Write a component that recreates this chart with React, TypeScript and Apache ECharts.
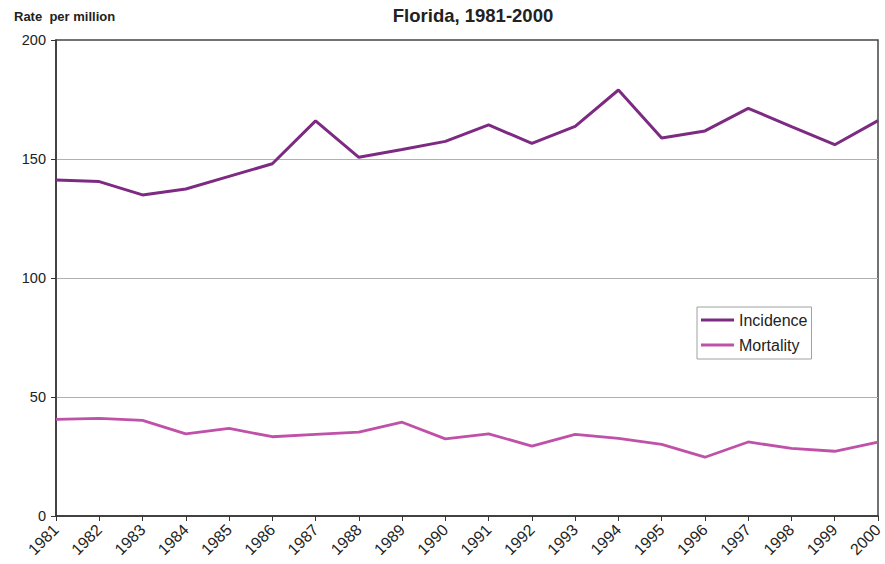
import React, { useEffect, useRef } from "react";
import * as echarts from "echarts";

const years = ["1981","1982","1983","1984","1985","1986","1987","1988","1989","1990","1991","1992","1993","1994","1995","1996","1997","1998","1999","2000"];
const incidence = [141.2, 140.5, 134.9, 137.4, 142.7, 148.0, 166.0, 150.7, 154.0, 157.4, 164.3, 156.6, 163.7, 179.0, 158.8, 161.8, 171.3, 163.6, 156.0, 166.1];
const mortality = [40.6, 41.0, 40.2, 34.5, 36.8, 33.3, 34.3, 35.2, 39.4, 32.4, 34.5, 29.4, 34.3, 32.6, 30.1, 24.7, 31.1, 28.4, 27.2, 31.0];
const yTicks = { min: 0, max: 200, interval: 50 };
const FONT = "'Liberation Sans', Arial, sans-serif";

export default function App() {
  const ref = useRef<HTMLDivElement>(null);
  useEffect(() => {
    if (!ref.current) return;
    const chart = echarts.init(ref.current, undefined, { renderer: "svg" });
    chart.setOption({
      animation: false,
      backgroundColor: "#ffffff",
      textStyle: { fontFamily: FONT },
      title: [
        {
          text: "Florida, 1981-2000",
          left: 468,
          top: 1,
          textAlign: "center",
          textStyle: { fontFamily: FONT, fontSize: 18.5, fontWeight: "bold", color: "#222" },
        },
        {
          text: "Rate  per million",
          left: 9,
          top: 5,
          textStyle: { fontFamily: FONT, fontSize: 13, fontWeight: "bold", color: "#222" },
        },
      ],
      grid: {
        left: 56,
        right: 7,
        top: 40,
        bottom: 48,
        show: true,
        borderColor: "#444",
        borderWidth: 1.5,
        outerBoundsMode: "none",
      },
      legend: {
        orient: "vertical",
        left: 697,
        top: 307,
        width: 118,
        padding: [5, 4, 6, 4],
        itemGap: 9,
        itemWidth: 33,
        itemHeight: 3,
        icon: "rect",
        borderColor: "#a0a0a0",
        borderWidth: 1,
        textStyle: { fontFamily: FONT, fontSize: 16, color: "#222" },
        data: ["Incidence", "Mortality"],
      },
      xAxis: {
        type: "category",
        data: years,
        boundaryGap: false,
        axisLine: { show: true, lineStyle: { color: "#333", width: 1.5 } },
        axisTick: { show: true, length: 5, alignWithLabel: true, lineStyle: { color: "#333" } },
        axisLabel: { rotate: 45, margin: 11, fontSize: 16, color: "#222", fontFamily: FONT, interval: 0 },
        splitLine: { show: false },
      },
      yAxis: {
        type: "value",
        min: yTicks.min,
        max: yTicks.max,
        interval: yTicks.interval,
        axisLine: { show: true, lineStyle: { color: "#333", width: 1.5 } },
        axisTick: { show: true, length: 5, lineStyle: { color: "#333" } },
        axisLabel: { margin: 10, fontSize: 14.5, color: "#222", fontFamily: FONT },
        splitLine: { show: true, showMinLine: false, showMaxLine: false, lineStyle: { color: "#b0b0b0", width: 1 } },
      },
      series: [
        {
          name: "Incidence",
          type: "line",
          data: incidence,
          symbol: "none",
          lineStyle: { color: "#7d2a82", width: 3 },
          itemStyle: { color: "#7d2a82" },
        },
        {
          name: "Mortality",
          type: "line",
          data: mortality,
          symbol: "none",
          lineStyle: { color: "#c051a9", width: 2.8 },
          itemStyle: { color: "#c051a9" },
        },
      ],
    });
    return () => chart.dispose();
  }, []);
  return <div ref={ref} style={{ width: 885, height: 564, position: "absolute", left: 0, top: 0 }} />;
}
